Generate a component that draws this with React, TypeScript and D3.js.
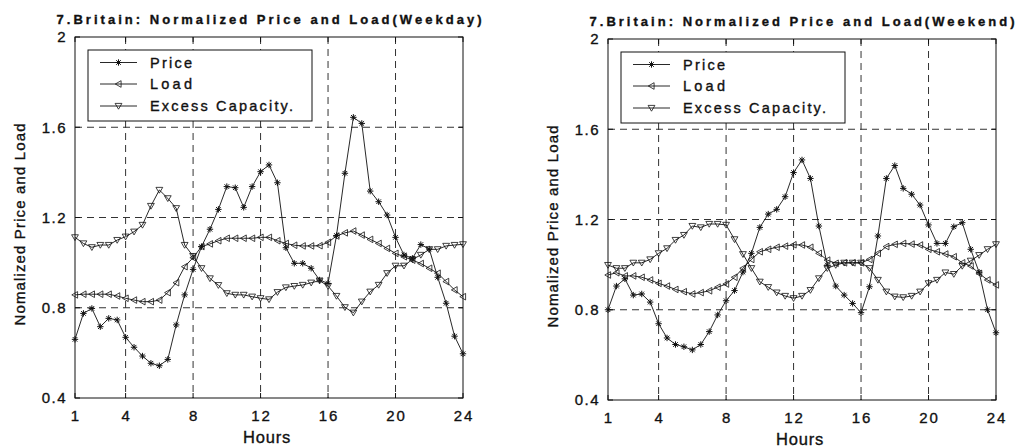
import React from "react";
import * as d3 from "d3";

// Half-hourly sampling points, hour 1 to hour 24
const hours: number[] = d3.range(1, 24.01, 0.5);

const xTicks = [1, 4, 8, 12, 16, 20, 24];
const yTicks = [0.4, 0.8, 1.2, 1.6, 2];
const xGrid = [4, 8, 12, 16, 20];
const yGrid = [0.8, 1.2, 1.6];

const weekdayPrice = [
  0.66, 0.775, 0.797, 0.716, 0.753, 0.746, 0.669, 0.625, 0.586, 0.554,
  0.543, 0.571, 0.724, 0.857, 0.97, 1.071, 1.148, 1.236, 1.337, 1.332,
  1.245, 1.337, 1.403, 1.433, 1.354, 1.066, 0.997, 0.997, 0.975, 0.923,
  0.908, 1.12, 1.396, 1.644, 1.617, 1.317, 1.27, 1.211, 1.112, 1.034,
  1.019, 1.08, 1.06, 0.935, 0.82, 0.674, 0.596,
];
const weekdayLoad = [
  0.857, 0.86, 0.86, 0.86, 0.86, 0.852, 0.842, 0.834, 0.827, 0.827,
  0.834, 0.867, 0.911, 0.982, 1.022, 1.071, 1.083, 1.097, 1.108, 1.108,
  1.108, 1.108, 1.112, 1.112, 1.097, 1.085, 1.077, 1.074, 1.074, 1.075,
  1.09, 1.118, 1.132, 1.14, 1.122, 1.103, 1.085, 1.063, 1.041, 1.026,
  1.011, 0.996, 0.975, 0.953, 0.916, 0.879, 0.849,
];
const weekdayExcess = [
  1.112, 1.085, 1.068, 1.078, 1.078, 1.1, 1.115, 1.137, 1.167, 1.251,
  1.322, 1.285, 1.241, 1.078, 1.029, 0.975, 0.93, 0.9, 0.864, 0.857,
  0.857, 0.849, 0.842, 0.837, 0.869, 0.89, 0.896, 0.901, 0.911, 0.92,
  0.896, 0.852, 0.802, 0.778, 0.827, 0.871, 0.901, 0.953, 0.986, 0.986,
  1.014, 1.034, 1.059, 1.059, 1.074, 1.078, 1.081,
];

const weekendPrice = [
  0.8, 0.905, 0.937, 0.865, 0.87, 0.834, 0.738, 0.675, 0.646, 0.636,
  0.622, 0.646, 0.703, 0.777, 0.84, 0.885, 0.967, 1.05, 1.165, 1.224,
  1.245, 1.301, 1.408, 1.464, 1.382, 1.171, 0.998, 0.905, 0.865, 0.828,
  0.787, 0.902, 1.127, 1.382, 1.439, 1.338, 1.312, 1.264, 1.176, 1.094,
  1.094, 1.168, 1.186, 1.068, 0.966, 0.8, 0.698,
];
const weekendLoad = [
  0.954, 0.964, 0.95, 0.95, 0.944, 0.932, 0.917, 0.905, 0.89, 0.88,
  0.87, 0.876, 0.884, 0.9, 0.914, 0.944, 0.984, 1.023, 1.057, 1.068,
  1.077, 1.082, 1.088, 1.087, 1.077, 1.05, 1.02, 1.006, 1.008, 1.008,
  1.008, 1.023, 1.05, 1.08, 1.09, 1.094, 1.091, 1.087, 1.068, 1.057,
  1.047, 1.035, 1.008, 0.994, 0.961, 0.932, 0.91,
];
const weekendExcess = [
  0.998, 0.984, 0.984, 1.008, 1.008, 1.023, 1.05, 1.072, 1.109, 1.131,
  1.171, 1.165, 1.18, 1.18, 1.176, 1.112, 1.046, 0.984, 0.924, 0.9,
  0.876, 0.861, 0.851, 0.861, 0.887, 0.939, 0.984, 0.998, 1.008, 1.008,
  1.008, 0.984, 0.932, 0.88, 0.858, 0.855, 0.861, 0.88, 0.917, 0.932,
  0.965, 0.958, 0.994, 1.017, 1.042, 1.068, 1.09,
];

const seriesNames = ["Price", "Load", "Excess Capacity."];
const legendWidths = [42, 42, 143];

const FONT = "'Liberation Sans', Arial, Helvetica, sans-serif";
const W = 388;
const H = 361;
const INK = "#111";
// thin outline that gives the lettering a slightly heavier, printed look
const TEXT_STROKE = { stroke: INK, strokeWidth: 0.35 };

type MarkerKind = "star" | "left" | "down";
const markerKinds: MarkerKind[] = ["star", "left", "down"];

function markerPath(kind: MarkerKind, x: number, y: number): string {
  if (kind === "star") {
    const r = 3.2;
    const d = r * 0.72;
    return `M${x - r},${y}L${x + r},${y}M${x},${y - r}L${x},${y + r}` +
      `M${x - d},${y - d}L${x + d},${y + d}M${x - d},${y + d}L${x + d},${y - d}`;
  }
  if (kind === "left") {
    return `M${x - 3.2},${y}L${x + 2.6},${y - 3.3}L${x + 2.6},${y + 3.3}Z`;
  }
  return `M${x - 3.4},${y - 2.6}L${x + 3.4},${y - 2.6}L${x},${y + 3.2}Z`;
}

function Marker({ kind, x, y }: { kind: MarkerKind; x: number; y: number }) {
  return (
    <path
      d={markerPath(kind, x, y)}
      fill="none"
      stroke={INK}
      strokeWidth={kind === "star" ? 1 : 0.8}
    />
  );
}

interface PanelProps {
  left: number;
  top: number;
  title: string;
  series: number[][];
}

function Panel({ left, top, title, series }: PanelProps) {
  const x = d3.scaleLinear().domain([1, 24]).range([0, W]);
  const y = d3.scaleLinear().domain([0.4, 2]).range([H, 0]);
  const line = d3
    .line<number>()
    .x((_, i) => x(hours[i]))
    .y((v) => y(v));

  const legX = 13;
  const legY = 13;
  const legW = 224;
  const legH = 71;
  const rowY = [12.5, 34, 56];

  return (
    <g transform={`translate(${left},${top})`} fontFamily={FONT}>
      <text
        x={W / 2}
        y={-13}
        textAnchor="middle"
        fontSize={13}
        fontWeight="bold"
        textLength={425}
        lengthAdjust="spacing"
        fill={INK}
        {...TEXT_STROKE}
      >
        {title}
      </text>

      {/* dashed grid */}
      {xGrid.map((t) => (
        <line
          key={`gx${t}`}
          x1={x(t)}
          x2={x(t)}
          y1={0}
          y2={H}
          stroke="#333"
          strokeWidth={1}
          strokeDasharray="7,5"
        />
      ))}
      {yGrid.map((t) => (
        <line
          key={`gy${t}`}
          x1={0}
          x2={W}
          y1={y(t)}
          y2={y(t)}
          stroke="#333"
          strokeWidth={1}
          strokeDasharray="7,5"
        />
      ))}

      {/* tick marks on all four sides */}
      {xTicks.map((t) => (
        <g key={`tx${t}`}>
          <line x1={x(t)} x2={x(t)} y1={H} y2={H - 5} stroke={INK} />
          <line x1={x(t)} x2={x(t)} y1={0} y2={5} stroke={INK} />
        </g>
      ))}
      {yTicks.map((t) => (
        <g key={`ty${t}`}>
          <line x1={0} x2={5} y1={y(t)} y2={y(t)} stroke={INK} />
          <line x1={W} x2={W - 5} y1={y(t)} y2={y(t)} stroke={INK} />
        </g>
      ))}

      {/* data series */}
      {series.map((vals, s) => (
        <g key={`s${s}`}>
          <path d={line(vals) ?? ""} fill="none" stroke={INK} strokeWidth={0.9} />
          {vals.map((v, i) => (
            <Marker key={i} kind={markerKinds[s]} x={x(hours[i])} y={y(v)} />
          ))}
        </g>
      ))}

      {/* axes box */}
      <rect x={0} y={0} width={W} height={H} fill="none" stroke={INK} strokeWidth={1} />

      {/* tick labels */}
      {xTicks.map((t) => (
        <text
          key={`lx${t}`}
          x={x(t) + 1}
          y={H + 23}
          textAnchor="middle"
          fontSize={15}
          letterSpacing={2}
          fill={INK}
          {...TEXT_STROKE}
        >
          {t}
        </text>
      ))}
      {yTicks.map((t) => (
        <text
          key={`ly${t}`}
          x={-8}
          y={y(t)}
          dy="0.36em"
          textAnchor="end"
          fontSize={15}
          letterSpacing={1.5}
          fill={INK}
          {...TEXT_STROKE}
        >
          {d3.format("~g")(t)}
        </text>
      ))}

      {/* axis titles */}
      <text
        x={W / 2 - 2}
        y={H + 45}
        textAnchor="middle"
        fontSize={16.5}
        letterSpacing={0.8}
        fill={INK}
        {...TEXT_STROKE}
      >
        Hours
      </text>
      <text
        transform={`translate(${-50},${H / 2 + 7}) rotate(-90)`}
        textAnchor="middle"
        fontSize={15}
        textLength={202}
        lengthAdjust="spacing"
        fill={INK}
        {...TEXT_STROKE}
      >
        Nomalized Price and Load
      </text>

      {/* legend */}
      <g transform={`translate(${legX},${legY})`}>
        <rect x={0} y={0} width={legW} height={legH} fill="#fff" stroke={INK} strokeWidth={1} />
        {seriesNames.map((name, i) => (
          <g key={name}>
            <line x1={12} x2={49} y1={rowY[i]} y2={rowY[i]} stroke={INK} strokeWidth={0.9} />
            <Marker kind={markerKinds[i]} x={30.5} y={rowY[i]} />
            <text
              x={62}
              y={rowY[i]}
              dy="0.36em"
              fontSize={14.5}
              textLength={legendWidths[i]}
              lengthAdjust="spacing"
              fill={INK}
              {...TEXT_STROKE}
            >
              {name}
            </text>
          </g>
        ))}
      </g>
    </g>
  );
}

export default function App() {
  return (
    <svg
      width={1019}
      height={447}
      style={{ position: "absolute", left: 0, top: 0, background: "#fff" }}
    >
      <rect x={0} y={0} width={1019} height={447} fill="#fff" />
      <Panel
        left={75}
        top={37}
        title="7.Britain: Normalized Price and Load(Weekday)"
        series={[weekdayPrice, weekdayLoad, weekdayExcess]}
      />
      <Panel
        left={608}
        top={39}
        title="7.Britain: Normalized Price and Load(Weekend)"
        series={[weekendPrice, weekendLoad, weekendExcess]}
      />
    </svg>
  );
}
